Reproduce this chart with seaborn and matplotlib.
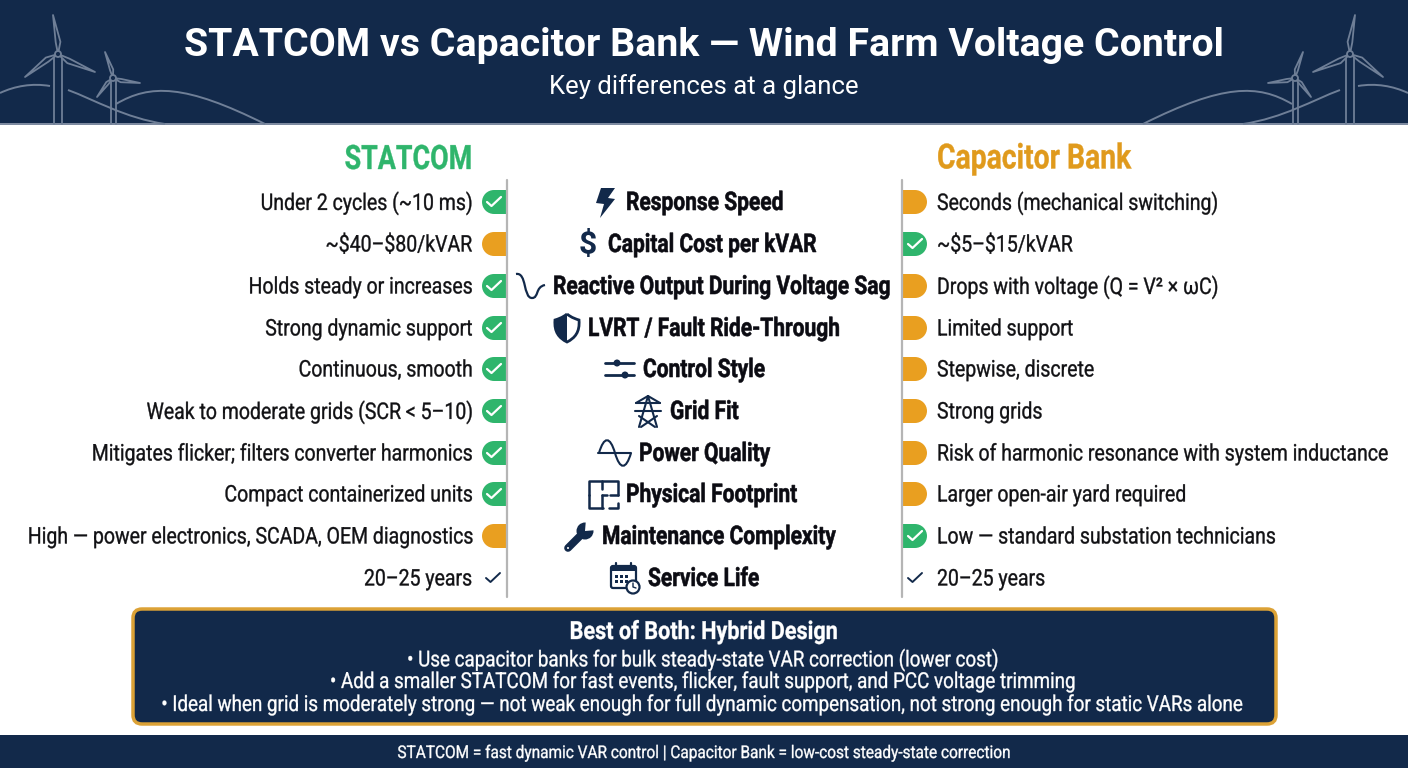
import seaborn as sns
import pandas as pd
import matplotlib.pyplot as plt
from matplotlib.patches import Rectangle, FancyBboxPatch, Polygon, Circle, PathPatch
from matplotlib.patheffects import AbstractPathEffect
from matplotlib.path import Path
from matplotlib.text import Text
from matplotlib.transforms import Affine2D, Bbox

# chart content
title = 'STATCOM vs Capacitor Bank — Wind Farm Voltage Control'
subtitle = 'Key differences at a glance'
features = ['Response Speed', 'Capital Cost per kVAR', 'Reactive Output During Voltage Sag',
            'LVRT / Fault Ride-Through', 'Control Style', 'Grid Fit', 'Power Quality',
            'Physical Footprint', 'Maintenance Complexity', 'Service Life']
statcom = ['Under 2 cycles (~10 ms)', '~$40–$80/kVAR', 'Holds steady or increases',
           'Strong dynamic support', 'Continuous, smooth', 'Weak to moderate grids (SCR < 5–10)',
           'Mitigates flicker; filters converter harmonics', 'Compact containerized units',
           'High — power electronics, SCADA, OEM diagnostics', '20–25 years']
capacitor = ['Seconds (mechanical switching)', '~$5–$15/kVAR', 'Drops with voltage (Q = V² × ωC)',
             'Limited support', 'Stepwise, discrete', 'Strong grids',
             'Risk of harmonic resonance with system inductance', 'Larger open-air yard required',
             'Low — standard substation technicians', '20–25 years']
statcom_marks = ['win', 'lose', 'win', 'win', 'win', 'win', 'win', 'win', 'lose', 'tie']
capacitor_marks = ['lose', 'win', 'lose', 'lose', 'lose', 'lose', 'lose', 'lose', 'win', 'tie']
hybrid_title = 'Best of Both: Hybrid Design'
hybrid_lines = ['• Use capacitor banks for bulk steady-state VAR correction (lower cost)',
                '• Add a smaller STATCOM for fast events, flicker, fault support, and PCC voltage trimming',
                '• Ideal when grid is moderately strong — not weak enough for full dynamic compensation, not strong enough for static VARs alone']
footer = 'STATCOM = fast dynamic VAR control | Capacitor Bank = low-cost steady-state correction'

# layout and colours
row_y = [202, 244, 286, 328, 369, 411, 453, 494, 536, 578]
feature_x = [626, 608, 553, 588, 643, 670, 639, 626, 602, 648]
NAVY = '#12294a'
GREEN = '#2fb56c'
ORANGE = '#e99f20'
LINE = '#6f7f97'
INK = '#111114'
palette = {'win': GREEN, 'lose': ORANGE}

sns.set_theme(style='white')
plt.rcParams['font.family'] = ['Roboto', 'DejaVu Sans']

fig, ax = plt.subplots(figsize=(14.08, 7.68), dpi=100)
fig.subplots_adjust(0, 0, 1, 1)
ax.set_xlim(0, 1408)
ax.set_ylim(768, 0)


# Roboto has no condensed cut here, so squeeze the glyph outlines around the text anchor
class Squeeze(AbstractPathEffect):
    def __init__(self, text, stroke):
        self.text = text
        self.stroke = stroke

    def draw_path(self, renderer, gc, tpath, affine, rgbFace=None):
        x0 = self.text.anchor_px()
        s = self.text.squeeze
        gc0 = renderer.new_gc()
        gc0.copy_properties(gc)
        gc0.set_linewidth(self.stroke)
        gc0.set_foreground(rgbFace)
        renderer.draw_path(gc0, tpath, affine + Affine2D().translate(-x0, 0).scale(s, 1).translate(x0, 0), rgbFace)
        gc0.restore()


class NarrowText(Text):
    def __init__(self, x, y, s, squeeze, stroke=0.25, **kw):
        super().__init__(x, y, s, **kw)
        self.squeeze = squeeze
        self.set_path_effects([Squeeze(self, stroke)])

    def anchor_px(self):
        return self.get_transform().transform((self.get_position()[0], 0))[0]

    def get_window_extent(self, renderer=None, dpi=None):
        bb = super().get_window_extent(renderer, dpi)
        x0 = self.anchor_px()
        return Bbox.from_extents(x0 + (bb.x0 - x0) * self.squeeze, bb.y0, x0 + (bb.x1 - x0) * self.squeeze, bb.y1)


def narrow(x, y, s, squeeze, **kw):
    t = NarrowText(x, y, s, squeeze, va='center', parse_math=False, **kw)
    ax._add_text(t)
    # a long line anchored on its other end keeps its unsqueezed box on the canvas
    r = fig.canvas.get_renderer()
    full = Text.get_window_extent(t, r)
    tight = t.get_window_extent(r)
    if full.x0 < 0:
        t.set_x(tight.x0)
        t.set_ha('left')
    elif full.x1 > 1408:
        t.set_x(tight.x1)
        t.set_ha('right')
    return t


def curve(pts, **kw):
    codes = [Path.MOVETO] + [Path.CURVE4] * (len(pts) - 1)
    ax.add_patch(PathPatch(Path(pts, codes), fc='none', **kw))


def turbine(hub, tips, tower_w, flip):
    f = (lambda x: 1408 - x) if flip else (lambda x: x)
    hx, hy = hub
    ax.plot([f(hx - tower_w), f(hx - tower_w)], [hy + 3, 124], color=LINE, lw=1.3, zorder=2)
    ax.plot([f(hx + tower_w), f(hx + tower_w)], [hy + 3, 124], color=LINE, lw=1.3, zorder=2)
    for tx, ty in tips:
        dx, dy = tx - hx, ty - hy
        nx, ny = -dy * 0.1, dx * 0.1
        blade = [(f(hx), hy), (f(hx + dx * .3 + nx), hy + dy * .3 + ny),
                 (f(tx), ty), (f(hx + dx * .3 - nx * .2), hy + dy * .3 - ny * .2)]
        ax.add_patch(Polygon(blade, closed=True, fc=NAVY, ec=LINE, lw=1.3, zorder=3, joinstyle='round'))
    ax.add_patch(Circle((f(hx), hy), 3, fc=NAVY, ec=LINE, lw=1.3, zorder=4))


def check(x, y, color, lw):
    ax.plot([x - 7, x - 2.5, x + 7], [y, y + 4, y - 5], color=color, lw=lw, zorder=6,
            solid_capstyle='round', solid_joinstyle='round')


# bands
ax.add_patch(Rectangle((0, 0), 1408, 124, fc=NAVY, ec='none', zorder=1))
ax.add_patch(Rectangle((0, 123), 1408, 1.5, fc='#7d8aa0', ec='none', zorder=1))
ax.add_patch(Rectangle((0, 735), 1408, 33, fc=NAVY, ec='none', zorder=1))

for flip in (False, True):
    f = (lambda x: 1408 - x) if flip else (lambda x: x)
    hill = dict(ec=LINE, lw=1.4, zorder=2)
    curve([(f(0), 93), (f(15), 86), (f(32), 83), (f(50), 86)], **hill)
    curve([(f(68), 90), (f(95), 100), (f(125), 118), (f(165), 124)], **hill)
    curve([(f(116), 104), (f(150), 84), (f(185), 84), (f(265), 124)], **hill)
    turbine((58, 54), [(53, 15), (25, 77), (95, 72)], 4, flip)
    turbine((113, 78), [(105, 52), (97, 97), (140, 83)], 2.5, flip)

ax.text(704, 45, title, color='white', fontsize=28.3, fontweight='bold', ha='center', va='center', zorder=5)
ax.text(704, 87, subtitle, color='white', fontsize=18.5, ha='center', va='center', zorder=5)

# column headings
narrow(472, 160, 'STATCOM', .80, color=GREEN, fontsize=24.2, fontweight='bold', ha='right')
narrow(937, 159, 'Capacitor Bank', .815, color='#e09a1c', fontsize=25, fontweight='bold', ha='left')

# rating badges drawn through seaborn, each with a square end against the divider
rows = pd.DataFrame({'y': row_y, 'feature': features, 'statcom': statcom, 'capacitor': capacitor,
                     'statcom_mark': statcom_marks, 'capacitor_mark': capacitor_marks})
for col, circle_x, bar_x in (('statcom_mark', 494, 494), ('capacitor_mark', 915, 902)):
    sub = rows[rows[col] != 'tie'].assign(cx=circle_x)
    sns.scatterplot(data=sub, x='cx', y='y', hue=col, palette=palette, s=298, marker='o',
                    linewidth=0, legend=False, ax=ax, zorder=3)
    for y, mark in zip(sub.y, sub[col]):
        ax.add_patch(Rectangle((bar_x, y - 12), 13, 24, fc=palette[mark], ec='none', zorder=3))
ax.set_xlabel('')
ax.set_ylabel('')
ax.set_xlim(0, 1408)
ax.set_ylim(768, 0)

for _, r in rows.iterrows():
    narrow(472, r.y + 1, r.statcom, .85, color=INK, fontsize=16.5, ha='right')
    narrow(937, r.y + 1, r.capacitor, .85, color=INK, fontsize=16.5, ha='left')
    if r.statcom_mark == 'win':
        check(494, r.y, 'white', 1.6)
    elif r.statcom_mark == 'tie':
        check(493, r.y, NAVY, 1.4)
    if r.capacitor_mark == 'win':
        check(915, r.y, 'white', 1.6)
    elif r.capacitor_mark == 'tie':
        check(915, r.y, NAVY, 1.4)

for y, x, name in zip(row_y, feature_x, features):
    narrow(x, y + 1, name, .816, stroke=0.4, color='#0b0b12', fontsize=18.5, fontweight='bold', ha='left')

# dividers
for x in (507, 902):
    ax.plot([x, x], [180, 597], color='#b5b5b5', lw=1.6, zorder=7)

# feature icons
ink = dict(color=NAVY, zorder=5, solid_capstyle='round')
ax.add_patch(Polygon([(601, 188), (615, 188), (608, 198), (615, 199), (600, 218), (604, 204), (596, 203)],
                     fc=NAVY, ec='none', zorder=5))
ax.text(588, 245, '$', color=NAVY, fontsize=23, fontweight='bold', ha='center', va='center', parse_math=False)
curve([(516, 274), (527, 272), (523, 298), (532, 298), (539, 298), (535, 287), (545, 285)],
      ec=NAVY, lw=1.6, zorder=5)
# shield, left half solid
shield = [(567, 314), (572, 318), (576, 319), (579, 320), (580, 332), (575, 338), (567, 342)]
ax.add_patch(PathPatch(Path(shield + [(559, 338), (554, 332), (555, 320), (558, 319), (562, 318), (567, 314)],
                            [Path.MOVETO] + [Path.CURVE4] * 12), fc='white', ec=NAVY, lw=2, zorder=5))
ax.add_patch(PathPatch(Path([(567, 314), (562, 318), (558, 319), (555, 320), (554, 332), (559, 338), (567, 342), (567, 314)],
                            [Path.MOVETO] + [Path.CURVE4] * 6 + [Path.LINETO]), fc=NAVY, ec='none', zorder=5))
for y, kx in ((363, 617), (375, 625)):
    ax.plot([605, 634], [y, y], lw=2, **ink)
    ax.add_patch(Circle((kx, y), 3.5, fc=NAVY, ec='none', zorder=5))
# tower
for xs, ys in (([648, 639], [396, 427]), ([648, 657], [396, 427]), ([636, 660], [403, 403]), ([635, 661], [411, 411]),
               ([641, 657], [427, 416]), ([655, 639], [427, 416]), ([636, 648], [403, 396]), ([660, 648], [403, 396])):
    ax.plot(xs, ys, lw=1.5, **ink)
# sine
ax.plot([598, 631], [453, 453], lw=1.5, **ink)
curve([(599, 453), (604, 436), (610, 436), (615, 453), (620, 470), (626, 470), (631, 453)], ec=NAVY, lw=1.5, zorder=5)
# floor plan
for xs, ys in (([589, 589, 618, 618], [495, 481, 481, 495]), ([589, 589, 603], [495, 508, 508]), ([609, 618, 618], [508, 508, 503]),
               ([602, 602], [481, 489]), ([602, 602], [495, 508]), ([602, 607], [495, 495]), ([610, 618], [495, 495])):
    ax.plot(xs, ys, lw=1.8, **ink)
# wrench
ax.plot([568, 583], [548, 533], lw=5.5, **ink)
ax.add_patch(Circle((585, 531), 8.5, fc=NAVY, ec='none', zorder=5))
ax.add_patch(Polygon([(585, 531), (586, 519), (598, 520), (597, 530)], fc='white', ec='none', zorder=5))
ax.add_patch(Circle((568, 548), 1, fc='white', ec='none', zorder=6))
# calendar
ax.add_patch(FancyBboxPatch((611, 566), 25, 22, boxstyle='round,pad=0,rounding_size=2', fc='white', ec=NAVY, lw=1.6, zorder=5))
ax.add_patch(Rectangle((611, 566), 25, 5, fc=NAVY, ec='none', zorder=5))
for x in (616, 631):
    ax.plot([x, x], [563, 568], lw=1.6, **ink)
for x in (616, 621, 626):
    for y in (576, 581):
        ax.add_patch(Rectangle((x - 1, y - 1), 2.5, 2.5, fc=NAVY, ec='none', zorder=5))
ax.add_patch(Circle((633, 587), 6.5, fc='white', ec=NAVY, lw=1.6, zorder=6))
ax.plot([633, 633, 636], [583, 587, 588], lw=1, **{**ink, 'zorder': 7})

# hybrid box
ax.add_patch(FancyBboxPatch((133, 609), 1143, 115, boxstyle='round,pad=0,rounding_size=9',
                            fc=NAVY, ec='#dca236', lw=2.5, zorder=2))
narrow(704, 632, hybrid_title, .865, color='white', fontsize=18, fontweight='bold', ha='center', zorder=3)
for y, line in zip((660, 682, 705), hybrid_lines):
    narrow(704, y, line, .857, color='white', fontsize=15.8, ha='center', zorder=3)
narrow(704, 753, footer, .88, color='white', fontsize=12.6, ha='center', zorder=3)

ax.set_axis_off()
fig.savefig('out.png', dpi=100)
